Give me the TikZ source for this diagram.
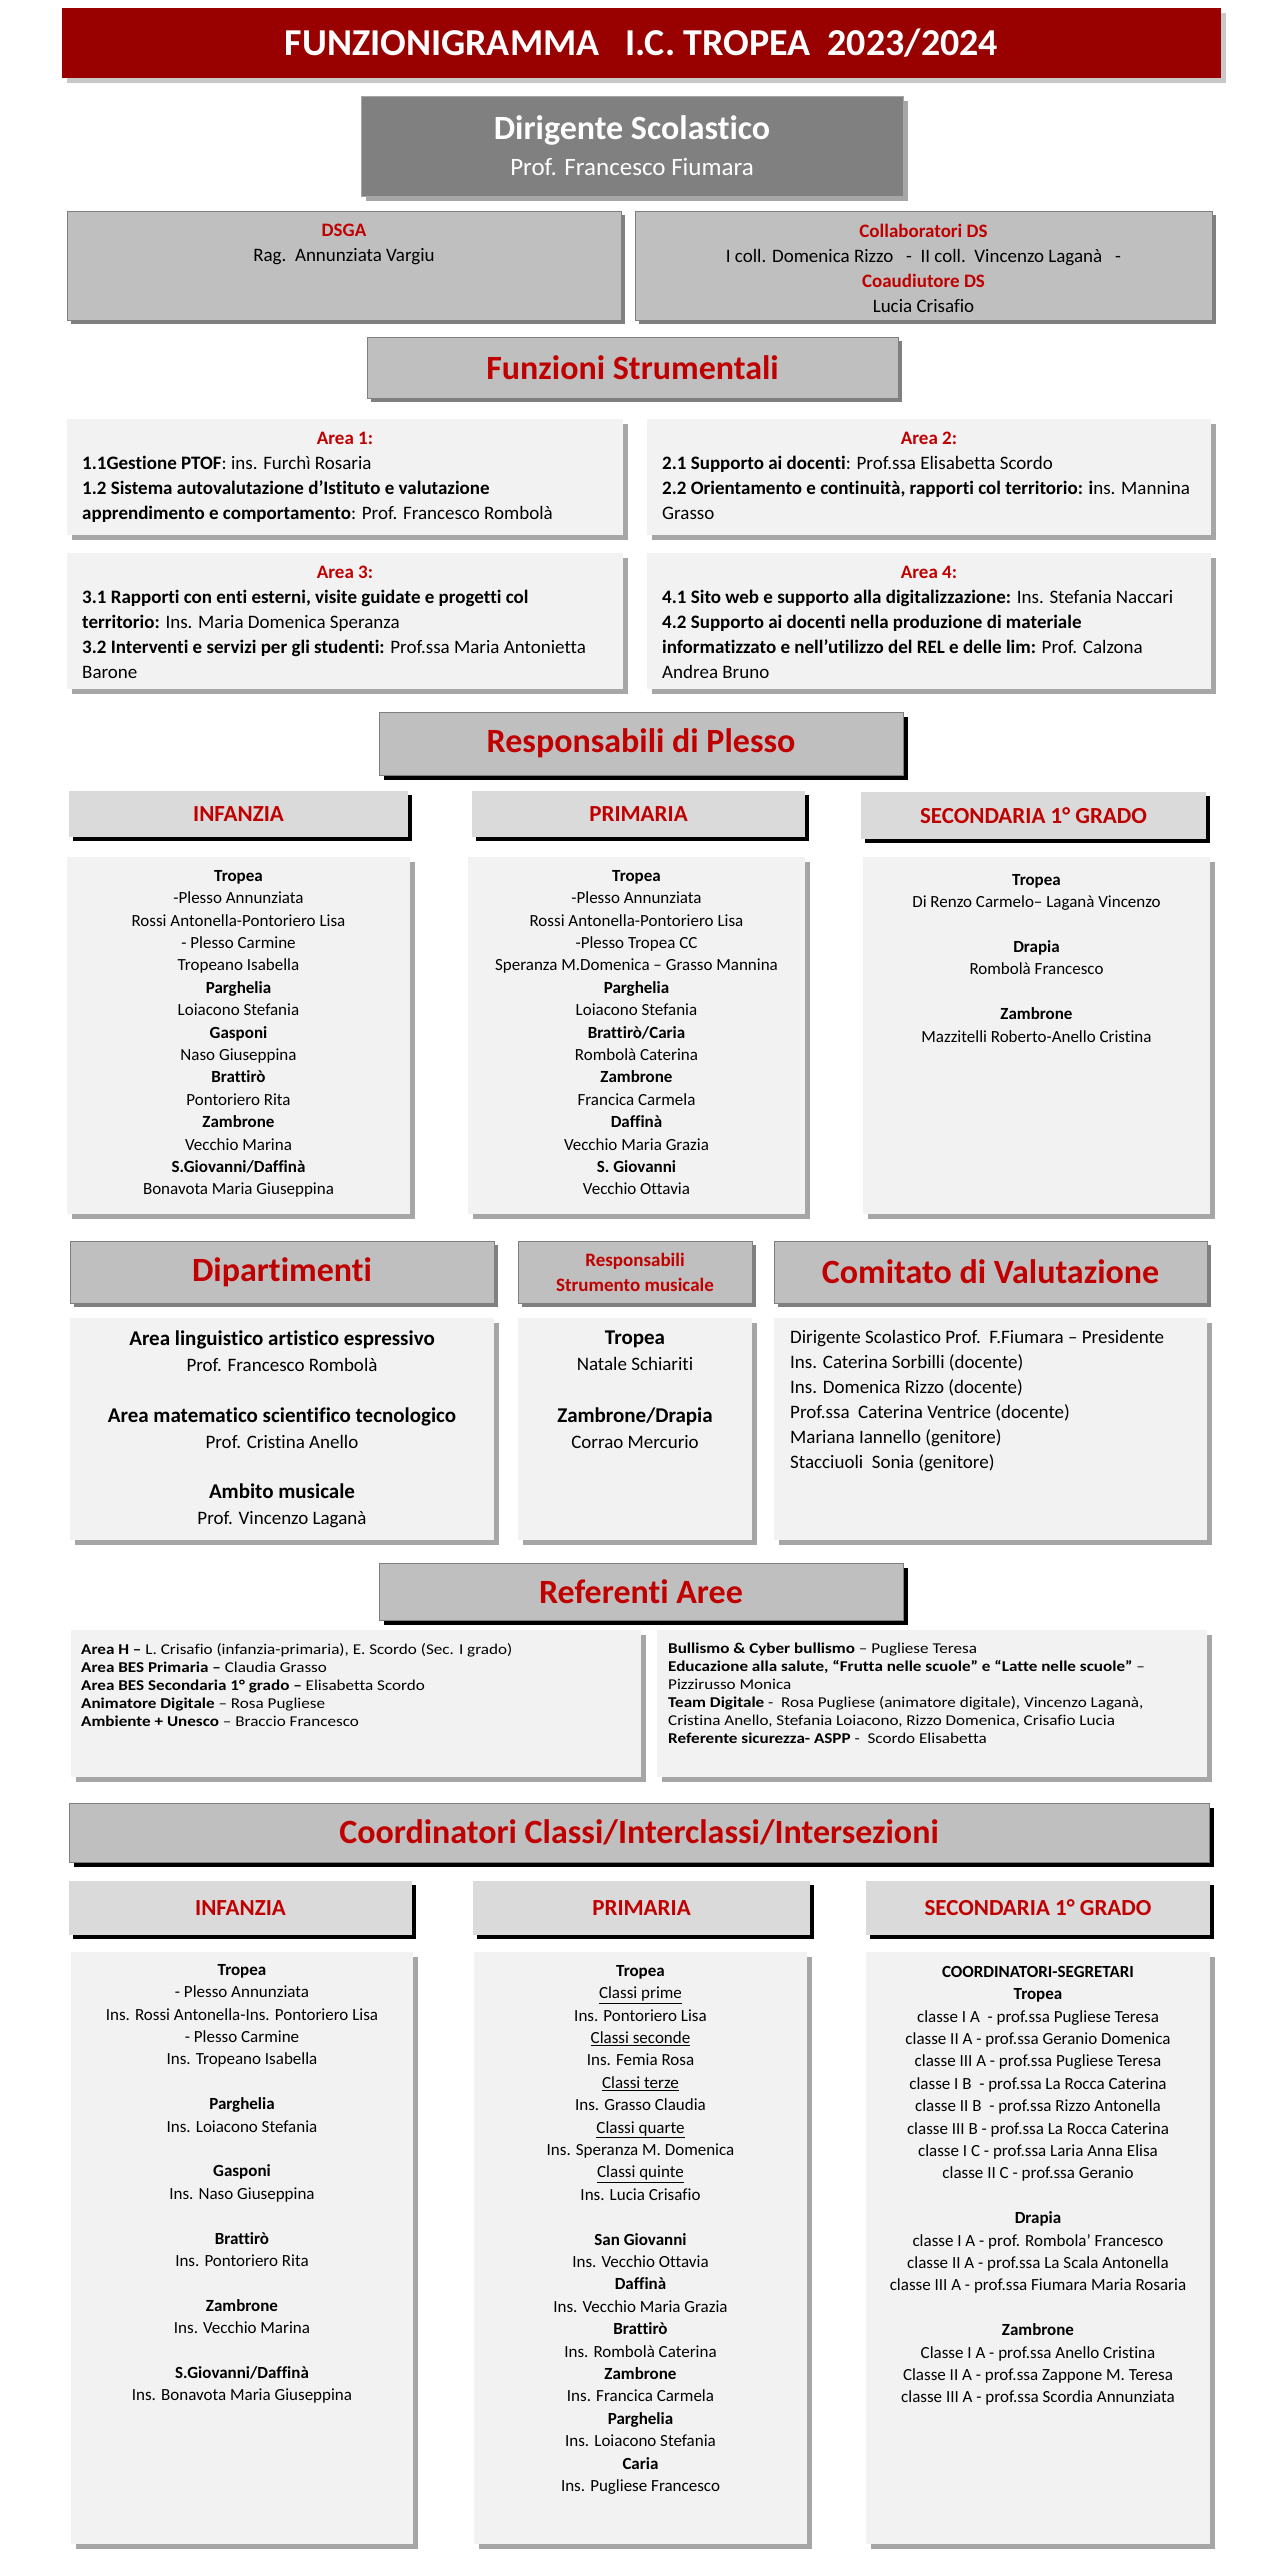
\documentclass[tikz,border=0pt]{standalone}
\usepackage{fontspec}
\setmainfont{Carlito}[Ligatures={NoCommon}]
\newfontfamily\WideFont{Carlito}[FakeStretch=1.14, Ligatures={NoCommon}]
\usetikzlibrary{positioning, shadows}
\definecolor{TitleRed}{HTML}{990000}
\definecolor{LabelRed}{HTML}{C00000}
\definecolor{DirGray}{HTML}{808080}
\definecolor{HeadGray}{HTML}{BFBFBF}
\definecolor{SubGray}{HTML}{DADADA}
\definecolor{BodyGray}{HTML}{F2F2F2}
\definecolor{EdgeGray}{HTML}{7F7F7F}
\definecolor{ShadeLight}{HTML}{C8C8C8}
\definecolor{ShadeMid}{HTML}{A6A6A6}
\definecolor{ShadeDark}{HTML}{808080}
\NewDocumentCommand{\RedTag}{m}{\textcolor{LabelRed}{\bfseries #1}}
\NewDocumentCommand{\BigBold}{m}{{\fontsize{21}{26}\selectfont\bfseries #1}}
\NewDocumentCommand{\DrawPanel}{O{bodybox} m m m m m}{
    \node[#1, minimum width=#4pt, minimum height=#5pt] (#2) at (#3) {#6};
}
\tikzset{
    panel/.style={rectangle, inner sep=0pt, outer sep=0pt, anchor=north west, align=center},
    titlebox/.style={panel, fill=TitleRed, text=white, font=\fontsize{38}{44}\selectfont\bfseries,
        general shadow={draw=none, fill=ShadeLight, shadow xshift=5pt, shadow yshift=-5pt}},
    dirbox/.style={panel, fill=DirGray, draw=ShadeMid, line width=0.5pt, text=white,
        general shadow={draw=none, fill=ShadeMid, shadow xshift=5pt, shadow yshift=-5pt}},
    greybox/.style={panel, fill=HeadGray, draw=EdgeGray, line width=0.5pt,
        general shadow={draw=none, fill=ShadeDark, shadow xshift=4pt, shadow yshift=-4pt}},
    blackbox/.style={panel, fill=HeadGray, draw=EdgeGray, line width=0.5pt,
        general shadow={draw=none, fill=black, shadow xshift=5pt, shadow yshift=-5pt}},
    subbox/.style={panel, fill=SubGray,
        general shadow={draw=none, fill=black, shadow xshift=4pt, shadow yshift=-4pt}},
    bodybox/.style={panel, fill=BodyGray,
        general shadow={draw=none, fill=ShadeMid, shadow xshift=5pt, shadow yshift=-5pt}},
    bigred/.style={text=LabelRed, font=\fontsize{34}{40}\selectfont\bfseries},
    subred/.style={text=LabelRed, font=\fontsize{23}{28}\selectfont\bfseries},
    bodytext/.style={inner sep=0pt, align=center, font=\fontsize{19}{25}\selectfont},
    lefttext/.style={inner sep=0pt, align=left, font=\fontsize{19}{25}\selectfont},
    deptext/.style={inner sep=0pt, align=center, font=\fontsize{19}{26}\selectfont},
    listtext/.style={inner sep=0pt, align=center, font=\fontsize{17}{22.4}\selectfont},
    reftext/.style={inner sep=0pt, align=left, font=\WideFont\fontsize{15}{18}\selectfont}
}

\begin{document}
\begin{tikzpicture}[x=1pt, y=-1pt]

    \useasboundingbox (0,0) rectangle (1265,2560);

    \DrawPanel[titlebox]{title}{62,8}{1159}{70}{FUNZIONIGRAMMA\ \ \ I.C. TROPEA\ \ 2023/2024}
    \DrawPanel[dirbox, font=\fontsize{25}{36}\selectfont]{dir}{361,96}{542}{100}{{\fontsize{34}{36}\selectfont\bfseries Dirigente Scolastico}\\Prof. Francesco Fiumara}

    \DrawPanel[greybox]{dsga}{67,211}{554}{109}{}
    \DrawPanel[greybox]{collab}{635,211}{577}{109}{}
    \node[bodytext, below=13pt of dsga.north] (dsgaT) {\RedTag{DSGA}\\Rag.\ \ Annunziata Vargiu};
    \node[bodytext, below=13pt of collab.north] (collabT) {\RedTag{Collaboratori DS}\\I coll. Domenica Rizzo\ \ \ -\ \ II coll.\ \ Vincenzo Laganà\ \ \ -\\\RedTag{Coaudiutore DS}\\Lucia Crisafio};

    \DrawPanel[greybox, bigred]{funz}{367,337}{531}{61}{Funzioni Strumentali}

    \DrawPanel{area1}{67,419}{556}{116}{}
    \DrawPanel{area2}{647,419}{564}{116}{}
    \DrawPanel{area3}{67,553}{556}{136}{}
    \DrawPanel{area4}{647,553}{564}{136}{}
    \node[bodytext, below=13pt of area1.north] (area1H) {\RedTag{Area 1:}};
    \node[bodytext, below=13pt of area2.north] (area2H) {\RedTag{Area 2:}};
    \node[bodytext, below=13pt of area3.north] (area3H) {\RedTag{Area 3:}};
    \node[bodytext, below=13pt of area4.north] (area4H) {\RedTag{Area 4:}};
    \node[lefttext, below right=37pt and 15pt of area1.north west] (area1T) {\textbf{1.1Gestione PTOF}: ins. Furchì Rosaria\\\textbf{1.2 Sistema autovalutazione d’Istituto e valutazione}\\\textbf{apprendimento e comportamento}: Prof. Francesco Rombolà};
    \node[lefttext, below right=37pt and 15pt of area2.north west] (area2T) {\textbf{2.1 Supporto ai docenti}: Prof.ssa Elisabetta Scordo\\\textbf{2.2 Orientamento e continuità, rapporti col territorio: i}ns. Mannina\\Grasso};
    \node[lefttext, below right=37pt and 15pt of area3.north west] (area3T) {\textbf{3.1 Rapporti con enti esterni, visite guidate e progetti col}\\\textbf{territorio:} Ins. Maria Domenica Speranza\\\textbf{3.2 Interventi e servizi per gli studenti:} Prof.ssa Maria Antonietta\\Barone};
    \node[lefttext, below right=37pt and 15pt of area4.north west] (area4T) {\textbf{4.1 Sito web e supporto alla digitalizzazione:} Ins. Stefania Naccari\\\textbf{4.2 Supporto ai docenti nella produzione di materiale}\\\textbf{informatizzato e nell’utilizzo del REL e delle lim:} Prof. Calzona\\Andrea Bruno};

    \DrawPanel[blackbox, bigred]{resp}{379,712}{524}{63}{Responsabili di Plesso}
    \DrawPanel[subbox, subred]{respInf}{69,791}{339}{46}{INFANZIA}
    \DrawPanel[subbox, subred]{respPri}{472,791}{333}{46}{PRIMARIA}
    \DrawPanel[subbox, subred]{respSec}{861,792}{345}{47}{SECONDARIA 1° GRADO}
    \DrawPanel{listInf}{67,857}{343}{357}{}
    \DrawPanel{listPri}{468,857}{337}{357}{}
    \DrawPanel{listSec}{863,857}{347}{357}{}
    \node[listtext, below=13pt of listInf.north] (listInfT) {\textbf{Tropea}\\-Plesso Annunziata\\Rossi Antonella-Pontoriero Lisa\\- Plesso Carmine\\Tropeano Isabella\\\textbf{Parghelia}\\Loiacono Stefania\\\textbf{Gasponi}\\Naso Giuseppina\\\textbf{Brattirò}\\Pontoriero Rita\\\textbf{Zambrone}\\Vecchio Marina\\\textbf{S.Giovanni/Daffinà}\\Bonavota Maria Giuseppina};
    \node[listtext, below=13pt of listPri.north] (listPriT) {\textbf{Tropea}\\-Plesso Annunziata\\Rossi Antonella-Pontoriero Lisa\\-Plesso Tropea CC\\Speranza M.Domenica – Grasso Mannina\\\textbf{Parghelia}\\Loiacono Stefania\\\textbf{Brattirò/Caria}\\Rombolà Caterina\\\textbf{Zambrone}\\Francica Carmela\\\textbf{Daffinà}\\Vecchio Maria Grazia\\\textbf{S. Giovanni}\\Vecchio Ottavia};
    \node[listtext, below=17pt of listSec.north] (listSecT) {\textbf{Tropea}\\Di Renzo Carmelo– Laganà Vincenzo\\[22.4pt]\textbf{Drapia}\\Rombolà Francesco\\[22.4pt]\textbf{Zambrone}\\Mazzitelli Roberto-Anello Cristina};

    \DrawPanel[greybox, bigred]{dip}{70,1241}{424}{62}{Dipartimenti}
    \DrawPanel[greybox, text=LabelRed, font=\fontsize{19}{25}\selectfont\bfseries]{strum}{518,1241}{234}{62}{Responsabili\\Strumento musicale}
    \DrawPanel[greybox, bigred]{comit}{774,1241}{433}{62}{Comitato di Valutazione}
    \DrawPanel{dipB}{70,1318}{424}{222}{}
    \DrawPanel{strumB}{518,1318}{234}{222}{}
    \DrawPanel{comitB}{774,1318}{433}{222}{}
    \node[deptext, below=13pt of dipB.north] (dipT) {\BigBold{Area linguistico artistico espressivo}\\Prof. Francesco Rombolà\\[25pt]\BigBold{Area matematico scientifico tecnologico}\\Prof. Cristina Anello\\[24pt]\BigBold{Ambito musicale}\\Prof. Vincenzo Laganà};
    \node[deptext, below=13pt of strumB.north] (strumT) {\BigBold{Tropea}\\Natale Schiariti\\[26pt]\BigBold{Zambrone/Drapia}\\Corrao Mercurio};
    \node[lefttext, below right=12pt and 16pt of comitB.north west] (comitT) {Dirigente Scolastico Prof.\ \ F.Fiumara – Presidente\\Ins. Caterina Sorbilli (docente)\\Ins. Domenica Rizzo (docente)\\Prof.ssa\ \ Caterina Ventrice (docente)\\Mariana Iannello (genitore)\\Stacciuoli\ \ Sonia (genitore)};

    \DrawPanel[blackbox, bigred]{refer}{379,1563}{524}{57}{Referenti Aree}
    \DrawPanel{referL}{71,1630}{570}{147}{}
    \DrawPanel{referR}{657,1630}{550}{147}{}
    \node[reftext, below right=13pt and 10pt of referL.north west] (referLT) {\textbf{Area H –} L. Crisafio (infanzia-primaria), E. Scordo (Sec. I grado)\\\textbf{Area BES Primaria –} Claudia Grasso\\\textbf{Area BES Secondaria 1° grado –} Elisabetta Scordo\\\textbf{Animatore Digitale} – Rosa Pugliese\\\textbf{Ambiente + Unesco} – Braccio Francesco};
    \node[reftext, below right=13pt and 11pt of referR.north west] (referRT) {\textbf{Bullismo \& Cyber bullismo} – Pugliese Teresa\\\textbf{Educazione alla salute, “Frutta nelle scuole” e “Latte nelle scuole”} –\\Pizzirusso Monica\\\textbf{Team Digitale} -\ \ Rosa Pugliese (animatore digitale), Vincenzo Laganà,\\Cristina Anello, Stefania Loiacono, Rizzo Domenica, Crisafio Lucia\\\textbf{Referente sicurezza- ASPP} -\ \ Scordo Elisabetta};

    \DrawPanel[blackbox, bigred]{coord}{69,1803}{1140}{59}{Coordinatori Classi/Interclassi/Intersezioni}
    \DrawPanel[subbox, subred]{coInf}{69,1881}{343}{54}{INFANZIA}
    \DrawPanel[subbox, subred]{coPri}{473,1881}{337}{54}{PRIMARIA}
    \DrawPanel[subbox, subred]{coSec}{866,1881}{344}{54}{SECONDARIA 1° GRADO}
    \DrawPanel{coInfB}{71,1952}{342}{592}{}
    \DrawPanel{coPriB}{474,1952}{333}{592}{}
    \DrawPanel{coSecB}{866,1952}{344}{592}{}
    \node[listtext, below=12pt of coInfB.north] (coInfT) {\textbf{Tropea}\\- Plesso Annunziata\\Ins. Rossi Antonella-Ins. Pontoriero Lisa\\- Plesso Carmine\\Ins. Tropeano Isabella\\[22.4pt]\textbf{Parghelia}\\Ins. Loiacono Stefania\\[22.4pt]\textbf{Gasponi}\\Ins. Naso Giuseppina\\[22.4pt]\textbf{Brattirò}\\Ins. Pontoriero Rita\\[22.4pt]\textbf{Zambrone}\\Ins. Vecchio Marina\\[22.4pt]\textbf{S.Giovanni/Daffinà}\\Ins. Bonavota Maria Giuseppina};
    \node[listtext, below=13pt of coPriB.north] (coPriT) {\textbf{Tropea}\\\underline{Classi prime}\\Ins. Pontoriero Lisa\\\underline{Classi seconde}\\Ins. Femia Rosa\\\underline{Classi terze}\\Ins. Grasso Claudia\\\underline{Classi quarte}\\Ins. Speranza M. Domenica\\\underline{Classi quinte}\\Ins. Lucia Crisafio\\[22.4pt]\textbf{San Giovanni}\\Ins. Vecchio Ottavia\\\textbf{Daffinà}\\Ins. Vecchio Maria Grazia\\\textbf{Brattirò}\\Ins. Rombolà Caterina\\\textbf{Zambrone}\\Ins. Francica Carmela\\\textbf{Parghelia}\\Ins. Loiacono Stefania\\\textbf{Caria}\\Ins. Pugliese Francesco};
    \node[listtext, below=14pt of coSecB.north] (coSecT) {\textbf{COORDINATORI-SEGRETARI}\\\textbf{Tropea}\\classe I A\ \ - prof.ssa Pugliese Teresa\\classe II A - prof.ssa Geranio Domenica\\classe III A - prof.ssa Pugliese Teresa\\classe I B\ \ - prof.ssa La Rocca Caterina\\classe II B\ \ - prof.ssa Rizzo Antonella\\classe III B - prof.ssa La Rocca Caterina\\classe I C - prof.ssa Laria Anna Elisa\\classe II C - prof.ssa Geranio\\[22.4pt]\textbf{Drapia}\\classe I A - prof. Rombola’ Francesco\\classe II A - prof.ssa La Scala Antonella\\classe III A - prof.ssa Fiumara Maria Rosaria\\[22.4pt]\textbf{Zambrone}\\Classe I A - prof.ssa Anello Cristina\\Classe II A - prof.ssa Zappone M. Teresa\\classe III A - prof.ssa Scordia Annunziata};
\end{tikzpicture}
\end{document}
